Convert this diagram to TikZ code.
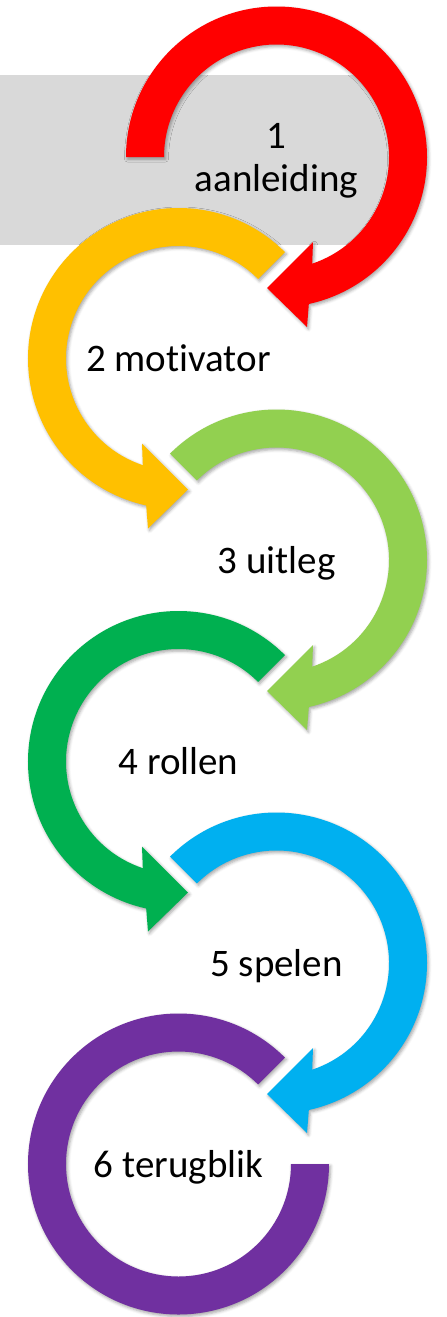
\documentclass[tikz,border=0pt]{standalone}
\usepackage{fontspec}
\setmainfont{Carlito}[Ligatures=NoCommon]
\usetikzlibrary{shadows.blur}

\definecolor{bandgray}{HTML}{D9D9D9}
\definecolor{cRed}{HTML}{FF0000}
\definecolor{cYellow}{HTML}{FFC000}
\definecolor{cLime}{HTML}{92D050}
\definecolor{cGreen}{HTML}{00B050}
\definecolor{cBlue}{HTML}{00B0F0}
\definecolor{cPurple}{HTML}{7030A0}

\tikzset{
  ringshadow/.style={blur shadow={shadow xshift=1.5pt, shadow yshift=-2pt,
      shadow blur radius=3pt, shadow opacity=35}},
  lbl/.style={font=\fontsize{39}{43}\selectfont, text=black, inner sep=0pt,
      align=center, anchor=base}
}

% ring turning clockwise from angle #3, arrowhead pointing left at the bottom
\newcommand\cwturn[3]{%
  \begin{scope}[shift={(#2)}]
    \fill[#1, ringshadow] (#3:150.5pt)
      arc[start angle=#3, end angle=-77.6, radius=150.5pt]
      -- (30.5pt,-170pt) -- (-9.5pt,-131pt) -- (36.5pt,-85pt)
      -- (-71.5:112.5pt)
      arc[start angle=-71.5, end angle=#3, radius=112.5pt] -- cycle;
  \end{scope}}
% ring turning counter-clockwise from angle #3, arrowhead pointing right at the bottom
\newcommand\ccwturn[3]{%
  \begin{scope}[shift={(#2)}]
    \fill[#1, ringshadow] (#3:150.5pt)
      arc[start angle=#3, end angle=257.6, radius=150.5pt]
      -- (-30.5pt,-170pt) -- (9.5pt,-131pt) -- (-36.5pt,-85pt)
      -- (251.5:112.5pt)
      arc[start angle=251.5, end angle=#3, radius=112.5pt] -- cycle;
  \end{scope}}

\begin{document}
\begin{tikzpicture}
  \useasboundingbox (0pt,0pt) rectangle (447pt,-1317pt);

  % centres of the six rings
  \coordinate (c1) at (276.5pt,-157pt);
  \coordinate (c2) at (178.5pt,-358.5pt);
  \coordinate (c3) at (276.5pt,-560pt);
  \coordinate (c4) at (178.5pt,-761.5pt);
  \coordinate (c5) at (276.5pt,-963pt);
  \coordinate (c6) at (178.5pt,-1164pt);

  % grey band behind the first step
  \fill[bandgray] (0pt,-75pt) rectangle (392pt,-245pt);

  \cwturn{cRed}{c1}{180}
  \ccwturn{cYellow}{c2}{45}
  \cwturn{cLime}{c3}{135}
  \ccwturn{cGreen}{c4}{45}
  \cwturn{cBlue}{c5}{135}

  % last ring ends without an arrowhead
  \begin{scope}[shift={(c6)}]
    \fill[cPurple, ringshadow] (45:150.5pt)
      arc[start angle=45, end angle=360, radius=150.5pt]
      -- (0:112.5pt)
      arc[start angle=360, end angle=45, radius=112.5pt] -- cycle;
  \end{scope}

  \node[lbl] (t1) at ([yshift=-34pt]c1) {1\\aanleiding};
  \node[lbl] (t2) at ([yshift=-13pt]c2) {2 motivator};
  \node[lbl] (t3) at ([yshift=-13pt]c3) {3 uitleg};
  \node[lbl] (t4) at ([yshift=-13pt]c4) {4 rollen};
  \node[lbl] (t5) at ([yshift=-13pt]c5) {5 spelen};
  \node[lbl] (t6) at ([yshift=-13pt]c6) {6 terugblik};
\end{tikzpicture}
\end{document}
